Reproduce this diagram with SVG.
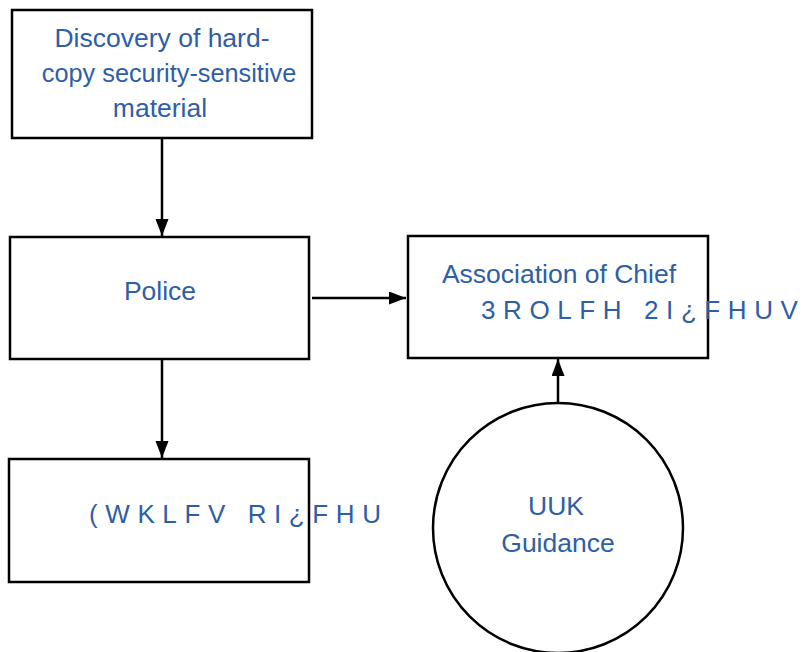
<svg xmlns="http://www.w3.org/2000/svg" width="803" height="652" viewBox="0 0 803 652">
<style>
.box{fill:#fff;stroke:#000;stroke-width:2.5}
.t{font-family:"Liberation Sans",Arial,sans-serif;font-size:26.5px;fill:#2e5ea6;text-anchor:middle}
.g{font-family:"Liberation Sans",Arial,sans-serif;font-size:26px;fill:#2e5ea6;letter-spacing:7.6px}
.c{stroke:#000;stroke-width:2.5;fill:none}
</style>
<defs>
<marker id="ah" markerUnits="userSpaceOnUse" markerWidth="17" markerHeight="14" viewBox="0 0 17 14" refX="17" refY="6.5" orient="auto">
<path d="M0,0 L17,6.5 L0,13 Z" fill="#000"/>
</marker>
</defs>
<rect width="803" height="652" fill="#fff"/>
<g id="connectors">
<line class="c" x1="162" y1="139" x2="162" y2="236" marker-end="url(#ah)"/>
<line class="c" x1="312" y1="298" x2="406" y2="298" marker-end="url(#ah)"/>
<line class="c" x1="162" y1="359" x2="162" y2="458" marker-end="url(#ah)"/>
<line class="c" x1="558" y1="403" x2="558" y2="359" marker-end="url(#ah)"/>
</g>
<g id="discovery">
<rect class="box" x="12" y="10" width="300" height="128"/>
<text class="t" x="162" y="47">Discovery of hard-</text>
<text class="t" x="169" y="82" style="font-size:25.3px">copy security-sensitive</text>
<text class="t" x="160" y="117">material</text>
</g>
<g id="police">
<rect class="box" x="10" y="237" width="299" height="122"/>
<text class="t" x="160" y="300">Police</text>
</g>
<g id="acpo">
<rect class="box" x="408" y="236" width="300" height="122"/>
<text class="t" x="559" y="283">Association of Chief</text>
<text class="g" x="481" y="319">3ROLFH 2I¿FHUV</text>
</g>
<g id="effects">
<rect class="box" x="9" y="459" width="300" height="123"/>
<text class="g" x="89" y="523">(WKLFV RI¿FHU</text>
</g>
<g id="uuk">
<circle class="box" cx="558" cy="528" r="125"/>
<text class="t" x="556" y="515">UUK</text>
<text class="t" x="558" y="552">Guidance</text>
</g>
</svg>
